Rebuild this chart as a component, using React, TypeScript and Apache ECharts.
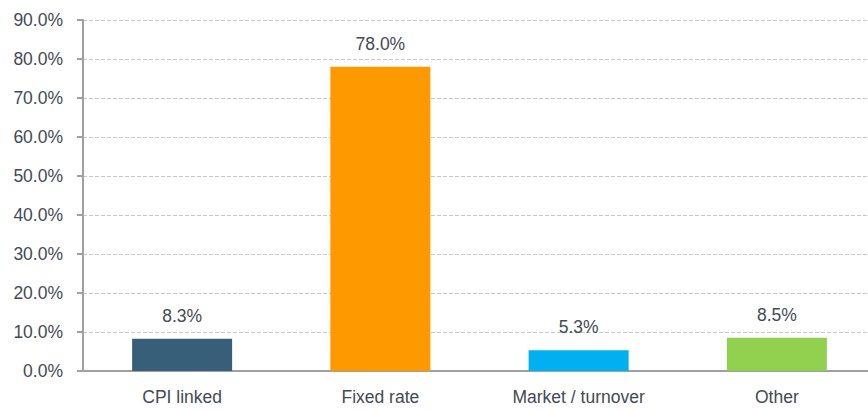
import React, { useEffect, useRef } from "react";
import * as echarts from "echarts";

const categories = ["CPI linked", "Fixed rate", "Market / turnover", "Other"];
const values = [8.3, 78.0, 5.3, 8.5];
const barColors = ["#375F7A", "#FF9900", "#00B0F0", "#92D050"];

export default function App() {
  const ref = useRef<HTMLDivElement>(null);
  useEffect(() => {
    document.body.style.margin = "0";
    document.body.style.overflow = "hidden";
    const chart = echarts.init(ref.current!, null, { renderer: "svg" });
    const textColor = "#434A54";
    const font = "'Liberation Sans', Arial, sans-serif";
    chart.setOption({
      animation: false,
      grid: { left: 83, right: 0, top: 20, bottom: 39 },
      xAxis: {
        type: "category",
        data: categories,
        axisLine: { lineStyle: { color: "#A0A0A0", width: 2 } },
        axisTick: { show: false },
        axisLabel: { color: textColor, fontSize: 17.5, fontFamily: font, margin: 17 },
      },
      yAxis: {
        type: "value",
        min: 0,
        max: 90,
        interval: 10,
        axisLine: { show: true, lineStyle: { color: "#A0A0A0", width: 2 } },
        axisTick: { show: true, length: 6, lineStyle: { color: "#A0A0A0", width: 2 } },
        axisLabel: {
          color: textColor,
          fontSize: 17.5,
          fontFamily: font,
          margin: 20,
          formatter: (v: number) => v.toFixed(1) + "%",
        },
        splitLine: { lineStyle: { color: "#C8C8C8", type: "dashed", width: 1 } },
      },
      series: [
        {
          type: "bar",
          barWidth: 100,
          data: values.map((v, i) => ({ value: v, itemStyle: { color: barColors[i] } })),
          label: {
            show: true,
            position: "top",
            distance: 14,
            color: textColor,
            fontSize: 17.5,
            fontFamily: font,
            formatter: (p: any) => p.value.toFixed(1) + "%",
          },
        },
      ],
    });
    return () => chart.dispose();
  }, []);
  return (
    <div style={{ width: 868, height: 410, overflow: "hidden" }}>
      <div ref={ref} style={{ width: 876, height: 410 }} />
    </div>
  );
}
